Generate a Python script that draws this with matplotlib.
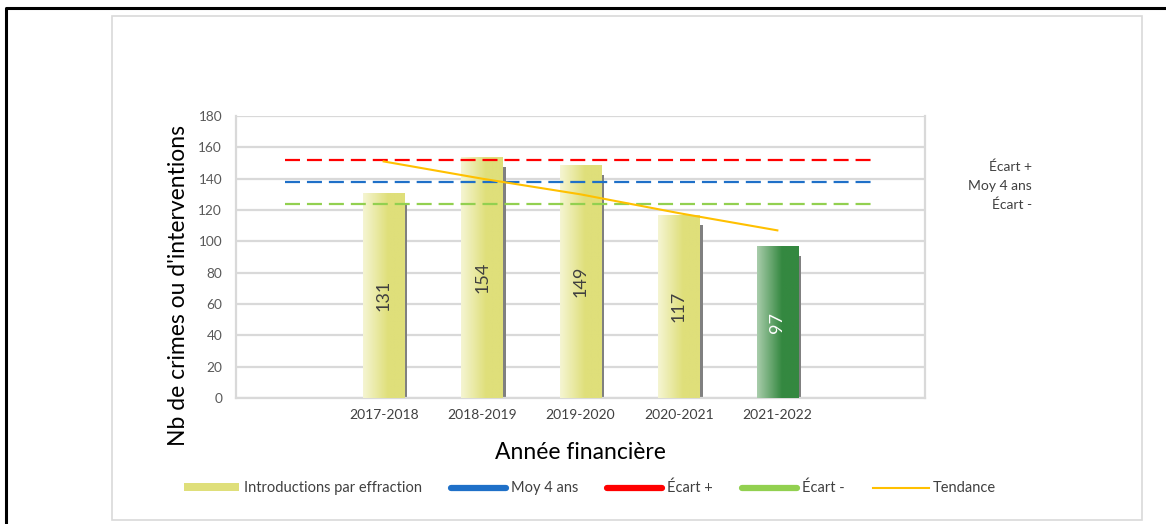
import matplotlib

matplotlib.use("Agg")
import matplotlib.pyplot as plt
import numpy as np
from matplotlib.lines import Line2D
from matplotlib.patches import Patch, Rectangle
from matplotlib.transforms import offset_copy

plt.rcParams["font.family"] = ["Lato", "DejaVu Sans"]
plt.rcParams["lines.scale_dashes"] = False

# data
categories = ["", "2017-2018", "2018-2019", "2019-2020", "2020-2021", "2021-2022", ""]
bar_years = ["2017-2018", "2018-2019", "2019-2020", "2020-2021", "2021-2022"]
introductions = [131, 154, 149, 117, 97]
trend = [151, 140, 130, 118, 107]
moy_4_ans = 138
ecart_plus = 152
ecart_moins = 124

YELLOW_LIGHT = np.array([245, 245, 210]) / 255
YELLOW_DARK = np.array([223, 223, 122]) / 255
GREEN_LIGHT = np.array([168, 204, 170]) / 255
GREEN_DARK = np.array([52, 136, 64]) / 255


def gradient_image(light, dark):
    nx, ny = 60, 60
    gx = np.linspace(0, 1, nx)
    # light on the left, full colour from ~60% of the width
    t = np.clip(gx / 0.6, 0, 1)[None, :] * np.ones((ny, 1))
    return light[None, None, :] * (1 - t[..., None]) + dark[None, None, :] * t[..., None]


fig = plt.figure(figsize=(11.66, 5.24), dpi=100)

# outer frames
fig.add_artist(Line2D([0.005, 0.005, 1.0], [0.0, 0.985, 0.985], transform=fig.transFigure,
                      color="black", linewidth=2.2))
fig.add_artist(Rectangle((112 / 1166, 4 / 524), (1142 - 112) / 1166, (508 - 4) / 524,
                         transform=fig.transFigure, fill=False, edgecolor="#d9d9d9",
                         linewidth=1.2))

ax = fig.add_axes([236 / 1166, 1 - 398 / 524, (925 - 236) / 1166, (398 - 116) / 524])
x = np.arange(len(categories))
ax.set_yticks(np.arange(0, 181, 20))
ax.set_xticks(x)
ax.set_xticklabels(categories, fontsize=10, color="#404040")
ax.tick_params(axis="y", labelsize=9.8, labelcolor="#595959", length=0, pad=10)
ax.tick_params(axis="x", length=0, pad=8)
ax.grid(axis="y", color="#d9d9d9", linewidth=1.6, zorder=0)
ax.set_axisbelow(True)
for side in ["left", "right", "bottom", "top"]:
    ax.spines[side].set_color("#d9d9d9")
    ax.spines[side].set_linewidth(1.6)
ax.spines["top"].set_visible(False)

bar_width = 0.42
shadow_tf = offset_copy(ax.transData, fig=fig, x=3, y=0, units="dots")
yellow_img = gradient_image(YELLOW_LIGHT, YELLOW_DARK)
green_img = gradient_image(GREEN_LIGHT, GREEN_DARK)

for i, (year, value) in enumerate(zip(bar_years, introductions)):
    xc = categories.index(year)
    left = xc - bar_width / 2
    last = i == len(introductions) - 1
    shadow = Rectangle((left, 0), bar_width, value - 6.4, transform=shadow_tf,
                       facecolor="#808080", edgecolor="none", zorder=2)
    ax.add_patch(shadow)
    rect = Rectangle((left, 0), bar_width, value, facecolor="none", edgecolor="none", zorder=3)
    ax.add_patch(rect)
    img = ax.imshow(green_img if last else yellow_img, extent=(left, left + bar_width, 0, value),
                    aspect="auto", origin="upper", zorder=3, interpolation="bilinear")
    img.set_clip_path(rect)
    ax.text(xc, value / 2, str(value), rotation=90, ha="center", va="center",
            fontsize=13, color="white" if last else "#404040", zorder=5)

ax.set_aspect("auto")
ax.set_xlim(-0.5, len(categories) - 0.5)
ax.set_ylim(0, 180)

dash = (10.8, 5.0)
ax.plot([x[0], x[-1]], [ecart_plus] * 2, color="#ff0000", linewidth=1.6, dashes=dash, zorder=4)
ax.plot([x[0], x[-1]], [moy_4_ans] * 2, color="#1f70c8", linewidth=1.6, dashes=dash, zorder=4)
ax.plot([x[0], x[-1]], [ecart_moins] * 2, color="#92d050", linewidth=1.6, dashes=dash, zorder=4)
trend_x = [categories.index(y) for y in bar_years]
ax.plot(trend_x, trend, color="#ffc000", linewidth=1.5, zorder=4)

ax.set_ylabel("Nb de crimes ou d'interventions", fontsize=16.5, color="black")
ax.yaxis.set_label_coords(-0.068, 0.40)
ax.set_xlabel("Année financière", fontsize=16.5, color="black", labelpad=15)

for label, ypix in [("Écart +", 167), ("Moy 4 ans", 186), ("Écart -", 205)]:
    fig.text(1032 / 1166, 1 - ypix / 524, label, ha="right", va="center",
             fontsize=10, color="#404040")

handles = [
    Patch(facecolor="#dfdf7a", edgecolor="none"),
    Line2D([], [], color="#1f70c8", linewidth=4.5, solid_capstyle="round"),
    Line2D([], [], color="#ff0000", linewidth=4.5, solid_capstyle="round"),
    Line2D([], [], color="#92d050", linewidth=4.5, solid_capstyle="round"),
    Line2D([], [], color="#ffc000", linewidth=1.5),
]
labels = ["Introductions par effraction", "Moy 4 ans", "Écart +", "Écart -", "Tendance"]
fig.legend(handles, labels, loc="center", bbox_to_anchor=(590 / 1166, 1 - 488 / 524),
           ncol=5, frameon=False, fontsize=10.5, handlelength=3.8, handleheight=0.5,
           handletextpad=0.3, columnspacing=2.0, labelcolor="#404040")

fig.savefig("out.png", dpi=100)
